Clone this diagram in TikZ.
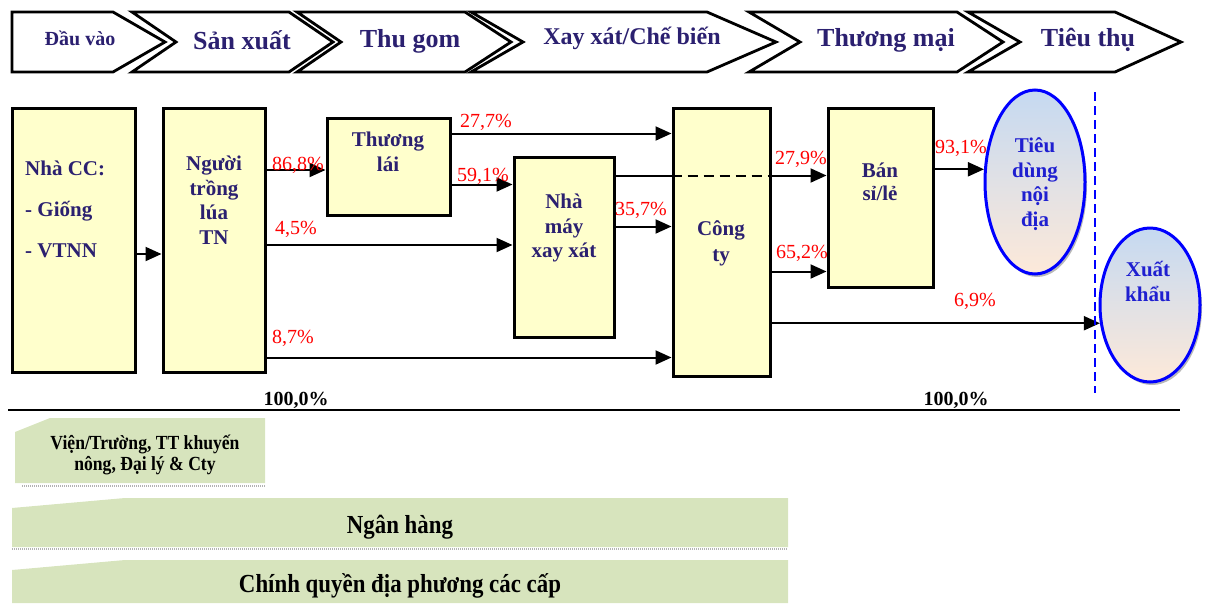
\documentclass[tikz,border=0pt]{standalone}
\usepackage{fontspec}
\setmainfont{Liberation Serif}
\newfontfamily\narrowserif[FakeStretch=0.88]{Liberation Serif}
\usetikzlibrary{shapes,arrows.meta,positioning,calc}

\definecolor{navy}{HTML}{2B2070}
\definecolor{boxfill}{HTML}{FFFFCC}
\definecolor{pctred}{HTML}{FF0000}
\definecolor{ellblue}{HTML}{0000FF}
\definecolor{elltext}{HTML}{1F1FD0}
\definecolor{ellTop}{HTML}{C5D9F1}
\definecolor{ellBot}{HTML}{FDE9D9}
\definecolor{supportgreen}{HTML}{D7E4BD}

\tikzset{
  stage/.style={draw, line width=2.8pt, fill=white, line join=miter},
  stagetext/.style={text=navy, font=\bfseries\fontsize{26}{30}\selectfont, inner sep=0pt},
  box/.style={draw, line width=3pt, fill=boxfill, inner sep=0pt},
  boxtext/.style={text=navy, font=\bfseries\fontsize{21}{24.5}\selectfont, align=center, inner sep=0pt},
  market/.style={ellipse, draw=ellblue, line width=3pt, top color=ellTop, bottom color=ellBot,
    minimum width=100pt, inner sep=0pt},
  markettext/.style={text=elltext, font=\bfseries\fontsize{21}{24.5}\selectfont, align=center, inner sep=0pt},
  flow/.style={-{Triangle[length=16pt,width=14pt]}, line width=2pt},
  pct/.style={text=pctred, font=\fontsize{20}{24}\selectfont, inner sep=0pt},
  total/.style={font=\bfseries\fontsize{20}{24}\selectfont, inner sep=0pt},
  supporttext/.style={font=\narrowserif\bfseries\fontsize{26}{30}\selectfont, align=center, inner sep=0pt}
}

\begin{document}
\begin{tikzpicture}[x=1pt,y=-1pt]
\useasboundingbox (0,0) rectangle (1208,603);

% Stages of the chain
\draw[stage] (12,12) -- (113,12) -- (165,42) -- (113,72) -- (12,72) -- cycle;
\foreach \l/\r/\t/\n in {132/289/333/176, 297/465/511/341, 471/707/776/523, 749/957/1003/800, 968/1115/1181/1020}
  \draw[stage] (\l,12) -- (\r,12) -- (\t,42) -- (\r,72) -- (\l,72) -- (\n,42) -- cycle;

\node[stagetext, font=\bfseries\fontsize{20}{24}\selectfont] (sInput) at (80,38) {Đầu vào};
\node[stagetext] (sProd) at (242,40) {Sản xuất};
\node[stagetext] (sCollect) at (410,41) {Thu gom};
\node[stagetext, font=\bfseries\fontsize{24}{28}\selectfont] (sMill) at (632,38) {Xay xát/Chế biến};
\node[stagetext] (sTrade) at (886,40) {Thương mại};
\node[stagetext] (sConsume) at (1088,40) {Tiêu thụ};

% Actors
\node[box, minimum width=123pt, minimum height=264pt] (cc) at (73.5,240) {};
\node[box, minimum width=102pt, minimum height=264pt] (tn) at (214,240) {};
\node[box, minimum width=123pt, minimum height=97pt] (tl) at (388.5,166.5) {};
\node[box, minimum width=100pt, minimum height=180pt] (nm) at (564,247) {};
\node[box, minimum width=97pt, minimum height=268pt] (cty) at (721.5,242) {};
\node[box, minimum width=105pt, minimum height=179pt] (bs) at (880.5,197.5) {};

\node[boxtext, align=left, anchor=west, font=\bfseries\fontsize{21}{41}\selectfont] (cctxt) at (25,209) {Nhà CC:\\- Giống\\- VTNN};
\node[boxtext] (tntxt) at (214,200) {Người\\trồng\\lúa\\TN};
\node[boxtext, font=\bfseries\fontsize{21}{25}\selectfont] (tltxt) at (388,152) {Thương\\lái};
\node[boxtext] (nmtxt) at (564,228) {Nhà\\máy\\xay xát};
\node[boxtext, font=\bfseries\fontsize{21}{26}\selectfont] (ctytxt) at (721,243) {Công\\ty};
\node[boxtext, font=\bfseries\fontsize{21}{23}\selectfont] (bstxt) at (880,182) {Bán\\sỉ/lẻ};

% Markets (with a soft shadow)
\fill[gray!55] (1037,185) ellipse [x radius=50, y radius=92];
\fill[gray!55] (1152,308) ellipse [x radius=50, y radius=77];
\node[market, minimum height=184pt] (td) at (1035,182) {};
\node[market, minimum height=154pt] (xk) at (1150,305) {};
\node[markettext] (tdtxt) at (1035,184) {Tiêu\\dùng\\nội\\địa};
\node[markettext, font=\bfseries\fontsize{21}{25}\selectfont] (xktxt) at (1148,281) {Xuất\\khẩu};

% Flows
\coordinate (inTN) at ([yshift=-14pt]tn.west);
\draw[flow] (cc.east |- inTN) -- (inTN);
\coordinate (inTL) at ([yshift=-3.5pt]tl.west);
\draw[flow] (tn.east |- inTL) -- (inTL);
\coordinate (inNM) at ([yshift=2pt]nm.west);
\draw[flow] (tn.east |- inNM) -- (inNM);
\coordinate (inCTYa) at ([yshift=20pt]cty.south west);
\draw[flow] (tn.east |- inCTYa) -- (inCTYa);
\coordinate (inCTYb) at ([yshift=-27pt]cty.north west);
\draw[flow] (tl.east |- inCTYb) -- (inCTYb);
\coordinate (inNMb) at ([yshift=-29pt]nm.north west);
\draw[flow] (tl.east |- inNMb) -- (inNMb);
\coordinate (inCTYc) at ([yshift=-120pt]cty.north west);
\draw[flow] (nm.east |- inCTYc) -- (inCTYc);
\coordinate (inBSa) at ([yshift=-69pt]bs.north west);
\draw[line width=2pt] (nm.east |- inBSa) -- (cty.west |- inBSa);
\draw[line width=2pt, dash pattern=on 10pt off 6pt] (cty.west |- inBSa) -- (cty.east |- inBSa);
\draw[flow] (cty.east |- inBSa) -- (inBSa);
\coordinate (inBSb) at ([yshift=17pt]bs.south west);
\draw[flow] (cty.east |- inBSb) -- (inBSb);
\draw[flow] (bs.east |- td.166) -- (td.166);
\draw[flow] (cty.east |- xk.200) -- (xk.200);

% Shares
\node[pct] (p868) at (298,165) {86,8\%};
\node[pct] (p45) at (296,229) {4,5\%};
\node[pct] (p87) at (293,338) {8,7\%};
\node[pct] (p277) at (486,122) {27,7\%};
\node[pct] (p591) at (483,176) {59,1\%};
\node[pct] (p357) at (641,210) {35,7\%};
\node[pct] (p279) at (801,159) {27,9\%};
\node[pct] (p652) at (802,253) {65,2\%};
\node[pct] (p931) at (961,148) {93,1\%};
\node[pct] (p69) at (975,301) {6,9\%};

% Border of export and totals
\draw[ellblue, line width=1.5pt, dash pattern=on 9pt off 5pt] (1095,92) -- (1095,393);
\node[total] (sumA) at (296,400) {100,0\%};
\node[total] (sumB) at (956,400) {100,0\%};
\draw[line width=2.5pt] (8,410) -- (1180,410);

% Supporting actors
\fill[supportgreen] (15,432) -- (50,418) -- (265,418) -- (265,483) -- (15,483) -- cycle;
\draw[gray!60, line width=2.5pt, dash pattern=on 1pt off 1pt] (22,486) -- (265,486);
\fill[supportgreen] (12,508) -- (125,498) -- (788,498) -- (788,547) -- (12,547) -- cycle;
\draw[gray!60, line width=2.5pt, dash pattern=on 1pt off 1pt] (12,549) -- (788,549);
\fill[supportgreen] (12,570) -- (125,560) -- (788,560) -- (788,603) -- (12,603) -- cycle;

\node[supporttext, font=\narrowserif\bfseries\fontsize{20}{21}\selectfont] (insttxt) at (145,455) {Viện/Trường, TT khuyến\\nông, Đại lý \& Cty};
\node[supporttext] (banktxt) at (400,527) {Ngân hàng};
\node[supporttext] (govtxt) at (400,586) {Chính quyền địa phương các cấp};

\end{tikzpicture}
\end{document}
